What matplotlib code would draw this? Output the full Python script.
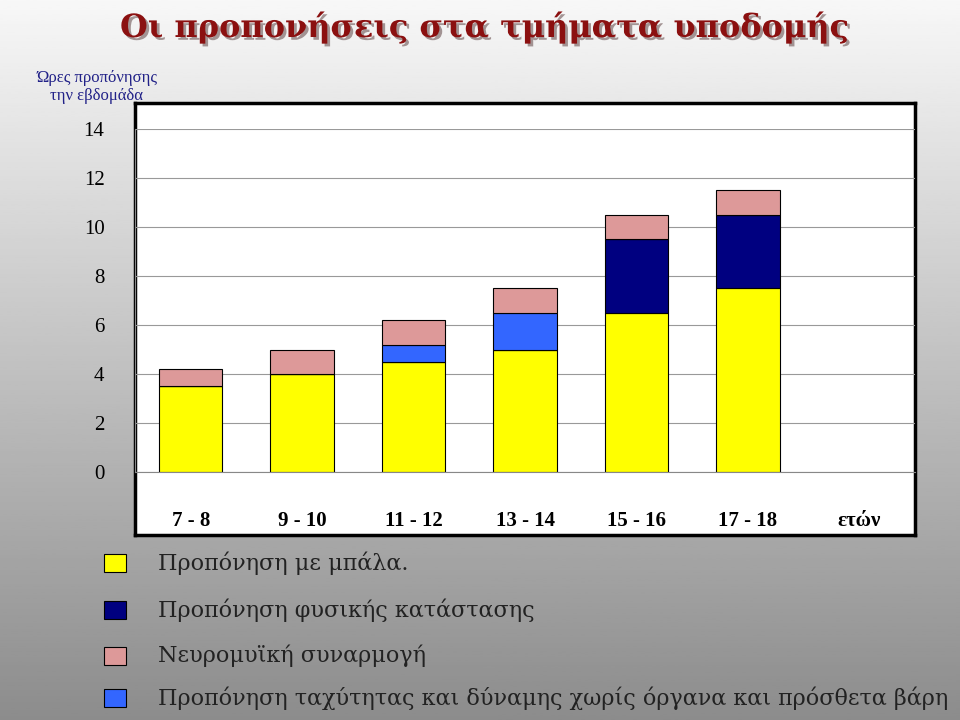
import matplotlib
matplotlib.use("Agg")
import matplotlib.pyplot as plt
import numpy as np
import matplotlib.patheffects as pe

categories = ["7 - 8", "9 - 10", "11 - 12", "13 - 14", "15 - 16", "17 - 18"]
ball = [3.5, 4.0, 4.5, 5.0, 6.5, 7.5]
physical = [0, 0, 0, 0, 3.0, 3.0]
speed = [0, 0, 0.7, 1.5, 0, 0]
neuro = [0.7, 1.0, 1.0, 1.0, 1.0, 1.0]
yticks = [0, 2, 4, 6, 8, 10, 12, 14]

c_ball, c_phys, c_neuro, c_speed = "#FFFF00", "#000080", "#DD9999", "#3366FF"

fig = plt.figure(figsize=(9.6, 7.2), dpi=100)
bg = fig.add_axes([0, 0, 1, 1], zorder=-10)
grad = np.linspace(0.97, 0.55, 256).reshape(-1, 1)
bg.imshow(grad, cmap="gray", vmin=0, vmax=1, aspect="auto", extent=[0, 1, 0, 1])
bg.axis("off")

panel = fig.add_axes([135/960, 1-535/720, 780/960, 432/720], zorder=-5)
panel.set_facecolor("white")
panel.set_xticks([]); panel.set_yticks([])
for s in panel.spines.values():
    s.set_linewidth(2.5); s.set_color("black")

ax = fig.add_axes([135/960, 1-472/720, 780/960, 343/720])
ax.patch.set_alpha(0)
x = np.arange(len(categories))
w = 0.57
ax.bar(x, ball, w, color=c_ball, edgecolor="black", linewidth=0.8)
b = np.array(ball)
ax.bar(x, physical, w, bottom=b, color=c_phys, edgecolor="black", linewidth=0.8)
b = b + np.array(physical)
ax.bar(x, speed, w, bottom=b, color=c_speed, edgecolor="black", linewidth=0.8)
b = b + np.array(speed)
ax.bar(x, neuro, w, bottom=b, color=c_neuro, edgecolor="black", linewidth=0.8)
ax.set_xlim(-0.5, 6.5)
ax.set_ylim(0, 14)
ax.set_yticks(yticks)
ax.grid(axis="y", color="#999999", linewidth=0.8)
ax.set_axisbelow(True)
for s in ["top", "right"]:
    ax.spines[s].set_visible(False)
ax.spines["left"].set_color("#888888")
ax.spines["bottom"].set_color("#888888")
ax.tick_params(length=0)
ax.set_xticks(list(x) + [6.0])
ax.set_xticklabels(categories + ["ετών"], fontfamily="Liberation Serif",
                   fontweight="bold", fontsize=15)
ax.tick_params(axis="x", pad=28)
ax.set_yticklabels([str(t) for t in yticks], fontfamily="Liberation Serif", fontsize=15)
ax.tick_params(axis="y", pad=22)

fig.text(485/960, 1-28/720, "Οι προπονήσεις στα τμήματα υποδομής", ha="center", va="center",
         fontfamily="DejaVu Serif", fontweight="bold", fontsize=23, color="#8B1010",
         path_effects=[pe.withSimplePatchShadow(offset=(2, -2), alpha=0.4)])
fig.text(97/960, 1-87/720, "Ώρες προπόνησης\nτην εβδομάδα", ha="center", va="center",
         fontfamily="Liberation Serif", fontsize=12, color="#222288", linespacing=1.1)

legend = [(c_ball, "Προπόνηση με μπάλα.", 563),
          (c_phys, "Προπόνηση φυσικής κατάστασης", 610),
          (c_neuro, "Νευρομυϊκή συναρμογή", 656),
          (c_speed, "Προπόνηση ταχύτητας και δύναμης χωρίς όργανα και πρόσθετα βάρη", 698)]
for col, txt, yy in legend:
    fig.patches.append(plt.Rectangle((104/960, 1-(yy+9)/720), 22/960, 18/720,
                                     transform=fig.transFigure, facecolor=col,
                                     edgecolor="black", linewidth=0.8))
    fig.text(158/960, 1-yy/720, txt, va="center", fontfamily="DejaVu Serif",
             fontsize=16, color="#222222")

fig.savefig("out.png", dpi=100)
